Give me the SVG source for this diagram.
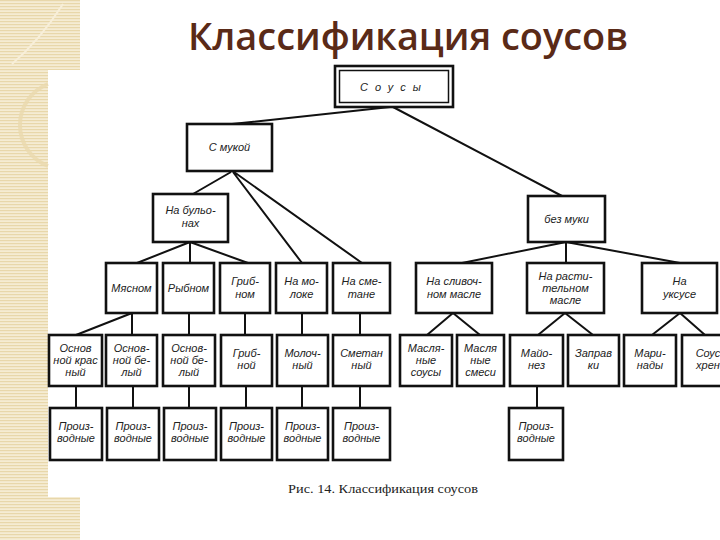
<svg xmlns="http://www.w3.org/2000/svg" width="720" height="540" viewBox="0 0 720 540">
<defs>
<pattern id="stripes" width="6" height="3" patternUnits="userSpaceOnUse">
<rect width="6" height="3" fill="#f5ecd3"/>
<rect width="6" height="1.2" fill="#e8d7aa"/>
</pattern>
<style>
.box{fill:#fff;stroke:#111;stroke-width:2.6}
.ln{stroke:#111;stroke-width:2;fill:none}
.t{font-family:"Liberation Sans","DejaVu Sans",sans-serif;font-style:italic;font-size:11px;fill:#222;text-anchor:middle}
</style>
</defs>
<rect width="720" height="540" fill="#fff"/>
<g id="decor">
<rect x="0" y="0" width="80" height="70" fill="url(#stripes)"/>
<rect x="0" y="70" width="48" height="428" fill="url(#stripes)"/>
<rect x="0" y="497" width="80" height="43" fill="url(#stripes)"/>
<path d="M48 84 A44 44 0 0 0 48 166" fill="none" stroke="#ead9ae" stroke-width="4" opacity="0.8"/>
<path d="M63 4 Q40 40 12 64" fill="none" stroke="#f8efd9" stroke-width="2"/>
</g>
<text x="408" y="50" font-family="'Open Sans','Liberation Sans',sans-serif" font-weight="600" font-size="37" fill="#5a2a17" text-anchor="middle" textLength="440" lengthAdjust="spacingAndGlyphs">Классификация соусов</text>
<g id="connectors">
<path class="ln" d="M390 107L232 124M393 107L562 196"/>
<path class="ln" d="M231 172L193 194M233 172L302 263M234 172L362 263"/>
<path class="ln" d="M190 242L137 263M190 242L190 263M190 242L248 263"/>
<path class="ln" d="M566 242L462 263M566 242L566 263M566 242L680 263"/>
<path class="ln" d="M132 313L76 335M132 313L132 335M189 313L189 335M245 313L245 335M302 313L302 335M360 313L360 335"/>
<path class="ln" d="M453 313L427 335M453 313L480 335M565 313L538 335M565 313L593 335M680 313L652 335M680 313L705 335"/>
<path class="ln" d="M76 386L76 408M133 386L133 408M189 386L189 408M246 386L246 408M302 386L302 408M360 386L360 408M537 386L537 408"/>
</g>
<g id="sousy"><rect class="box" x="335" y="66" width="118" height="41"/><rect x="339.5" y="70.5" width="109" height="32" fill="none" stroke="#111" stroke-width="1.5"/><text class="t" x="394" y="91" font-size="12" letter-spacing="7">Соусы</text></g>
<g id="smukoy"><rect class="box" x="187" y="124" width="85" height="47"/><text class="t" x="229.5" y="151">С мукой</text></g>
<g id="nabulon"><rect class="box" x="153" y="194" width="75" height="48"/><text class="t" x="190.5" y="214">На бульо-</text><text class="t" x="190.5" y="227">нах</text></g>
<g id="bezmuki"><rect class="box" x="528" y="196" width="77" height="46"/><text class="t" x="566.5" y="223">без муки</text></g>
<g id="myasnom"><rect class="box" x="106" y="263" width="51" height="50"/><text class="t" x="131.5" y="292">Мясном</text></g>
<g id="rybnom"><rect class="box" x="163" y="263" width="51" height="50"/><text class="t" x="188.5" y="292">Рыбном</text></g>
<g id="gribnom"><rect class="box" x="220" y="263" width="50" height="50"/><text class="t" x="245" y="285">Гриб-</text><text class="t" x="245" y="298">ном</text></g>
<g id="namoloke"><rect class="box" x="276" y="263" width="51" height="50"/><text class="t" x="301.5" y="285">На мо-</text><text class="t" x="301.5" y="298">локе</text></g>
<g id="nasmetane"><rect class="box" x="333" y="263" width="57" height="50"/><text class="t" x="361.5" y="285">На сме-</text><text class="t" x="361.5" y="298">тане</text></g>
<g id="naslivoch"><rect class="box" x="416" y="263" width="76" height="50"/><text class="t" x="454" y="285">На сливоч-</text><text class="t" x="454" y="298">ном масле</text></g>
<g id="narastit"><rect class="box" x="527" y="263" width="77" height="50"/><text class="t" x="565.5" y="280">На расти-</text><text class="t" x="565.5" y="292">тельном</text><text class="t" x="565.5" y="304">масле</text></g>
<g id="nauksuse"><rect class="box" x="642" y="263" width="75" height="50"/><text class="t" x="679.5" y="285">На</text><text class="t" x="679.5" y="298">уксусе</text></g>
<g id="osnkras"><rect class="box" x="49" y="335" width="53" height="51"/><text class="t" x="75.5" y="352">Основ</text><text class="t" x="75.5" y="364">ной крас</text><text class="t" x="75.5" y="376">ный</text></g>
<g id="osnbel1"><rect class="box" x="106" y="335" width="51" height="51"/><text class="t" x="131.5" y="352">Основ-</text><text class="t" x="131.5" y="364">ной бе-</text><text class="t" x="131.5" y="376">лый</text></g>
<g id="osnbel2"><rect class="box" x="163" y="335" width="52" height="51"/><text class="t" x="189" y="352">Основ-</text><text class="t" x="189" y="364">ной бе-</text><text class="t" x="189" y="376">лый</text></g>
<g id="gribnoy"><rect class="box" x="221" y="335" width="51" height="51"/><text class="t" x="246.5" y="357">Гриб-</text><text class="t" x="246.5" y="369">ной</text></g>
<g id="molochny"><rect class="box" x="277" y="335" width="51" height="51"/><text class="t" x="302.5" y="357">Молоч-</text><text class="t" x="302.5" y="369">ный</text></g>
<g id="smetanny"><rect class="box" x="333" y="335" width="57" height="51"/><text class="t" x="361.5" y="357">Сметан</text><text class="t" x="361.5" y="369">ный</text></g>
<g id="maslsousy"><rect class="box" x="400" y="335" width="52" height="51"/><text class="t" x="426" y="352">Масля-</text><text class="t" x="426" y="364">ные</text><text class="t" x="426" y="376">соусы</text></g>
<g id="maslsmesi"><rect class="box" x="457" y="335" width="47" height="51"/><text class="t" x="480.5" y="352">Масля</text><text class="t" x="480.5" y="364">ные</text><text class="t" x="480.5" y="376">смеси</text></g>
<g id="mayonez"><rect class="box" x="510" y="335" width="53" height="51"/><text class="t" x="536.5" y="357">Майо-</text><text class="t" x="536.5" y="369">нез</text></g>
<g id="zapravki"><rect class="box" x="568" y="335" width="51" height="51"/><text class="t" x="593.5" y="357">Заправ</text><text class="t" x="593.5" y="369">ки</text></g>
<g id="marinady"><rect class="box" x="624" y="335" width="52" height="51"/><text class="t" x="650" y="357">Мари-</text><text class="t" x="650" y="369">нады</text></g>
<g id="souskhren"><rect class="box" x="682" y="335" width="52" height="51"/><text class="t" x="708" y="357">Соус</text><text class="t" x="708" y="369">хрен</text></g>
<g id="proiz1"><rect class="box" x="50" y="408" width="52" height="52"/><text class="t" x="76" y="430">Произ-</text><text class="t" x="76" y="442">водные</text></g>
<g id="proiz2"><rect class="box" x="107" y="408" width="52" height="52"/><text class="t" x="133" y="430">Произ-</text><text class="t" x="133" y="442">водные</text></g>
<g id="proiz3"><rect class="box" x="164" y="408" width="52" height="52"/><text class="t" x="190" y="430">Произ-</text><text class="t" x="190" y="442">водные</text></g>
<g id="proiz4"><rect class="box" x="221" y="408" width="51" height="52"/><text class="t" x="246.5" y="430">Произ-</text><text class="t" x="246.5" y="442">водные</text></g>
<g id="proiz5"><rect class="box" x="277" y="408" width="51" height="52"/><text class="t" x="302.5" y="430">Произ-</text><text class="t" x="302.5" y="442">водные</text></g>
<g id="proiz6"><rect class="box" x="333" y="408" width="57" height="52"/><text class="t" x="361.5" y="430">Произ-</text><text class="t" x="361.5" y="442">водные</text></g>
<g id="proiz7"><rect class="box" x="509" y="408" width="54" height="52"/><text class="t" x="536" y="430">Произ-</text><text class="t" x="536" y="442">водные</text></g>
<text x="288" y="493" font-family="'Liberation Serif','DejaVu Serif',serif" font-size="13" fill="#222" textLength="190" lengthAdjust="spacingAndGlyphs">Рис. 14. Классификация соусов</text>
</svg>
